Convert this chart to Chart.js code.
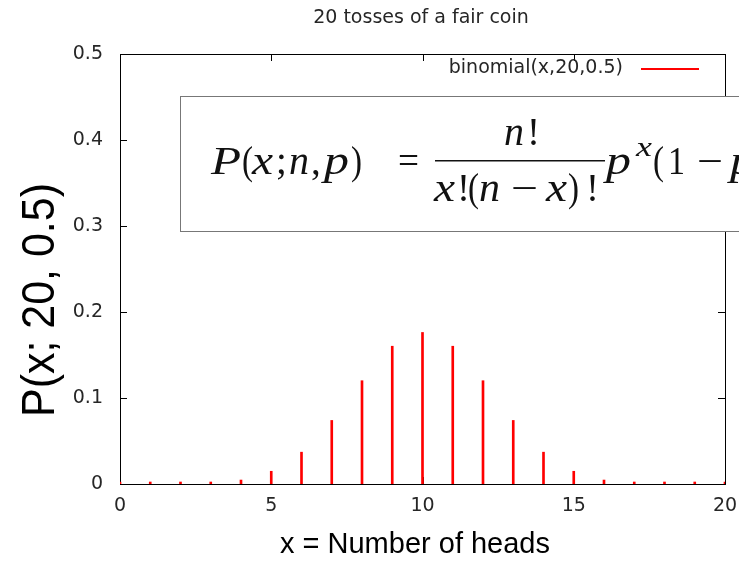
<!DOCTYPE html>
<html>
<head>
<meta charset="utf-8">
<script src="https://cdn.jsdelivr.net/npm/chart.js"></script>
<style>
  html, body { margin: 0; padding: 0; background: #fff; }
  #binom { display: block; }
</style>
</head>
<body>
<canvas id="binom" width="739" height="561"></canvas>
<script>
// Number of heads in 20 tosses and its probability, binomial(x,20,0.5)
const heads = [0, 1, 2, 3, 4, 5, 6, 7, 8, 9, 10, 11, 12, 13, 14, 15, 16, 17, 18, 19, 20];
const prob = [0.000001, 0.00002, 0.0002, 0.0011, 0.0046, 0.0148, 0.037, 0.0739, 0.1201, 0.1602, 0.1762,
              0.1602, 0.1201, 0.0739, 0.037, 0.0148, 0.0046, 0.0011, 0.0002, 0.00002, 0.000001];
const xTicks = [0, 5, 10, 15, 20];
const yTicks = [0, 0.1, 0.2, 0.3, 0.4, 0.5];

const seriesLabel = 'binomial(x,20,0.5)';
const chartTitle = '20 tosses of a fair coin';
const xTitle = 'x = Number of heads';
const yTitle = 'P(x; 20, 0.5)';

const TEXT = '#262626';
const SANS = '"DejaVu Sans", sans-serif';
const ARIAL = '"Liberation Sans", Arial, sans-serif';
const SERIF = '"Liberation Serif", serif';

// one piece of the formula; optional width squeezes/stretches it
function glyph(ctx, t, italic, x, base, size, width) {
  ctx.font = (italic ? 'italic ' : '') + size + 'px ' + SERIF;
  const w = ctx.measureText(t).width;
  ctx.save();
  ctx.translate(x, base);
  if (width) ctx.scale(width / w, 1);
  ctx.fillText(t, 0, 0);
  ctx.restore();
}

// gnuplot-like frame: full border with inward ticks on all four sides
const frame = {
  id: 'frame',
  beforeDatasetsDraw(chart) {
    const { ctx, chartArea: a, scales: { x, y } } = chart;
    ctx.save();
    ctx.strokeStyle = '#000';
    ctx.lineWidth = 1;
    ctx.strokeRect(a.left + 0.5, a.top + 0.5, a.right - a.left, a.bottom - a.top);
    ctx.beginPath();
    xTicks.forEach(v => {
      const px = Math.round(x.getPixelForValue(v)) + 0.5;
      ctx.moveTo(px, a.bottom); ctx.lineTo(px, a.bottom - 7);
      ctx.moveTo(px, a.top); ctx.lineTo(px, a.top + 7);
    });
    yTicks.forEach(v => {
      const py = Math.round(y.getPixelForValue(v)) + 0.5;
      ctx.moveTo(a.left, py); ctx.lineTo(a.left + 7, py);
      ctx.moveTo(a.right, py); ctx.lineTo(a.right - 7, py);
    });
    ctx.stroke();
    ctx.restore();
  },
  afterDraw(chart) {
    const { ctx } = chart;
    ctx.save();
    ctx.fillStyle = TEXT;
    ctx.textBaseline = 'middle';

    // title
    ctx.font = '19px ' + SANS;
    ctx.textAlign = 'center';
    ctx.fillText(chartTitle, 421, 18);

    // key: label then line sample
    ctx.textAlign = 'right';
    ctx.fillText(seriesLabel, 623, 68);
    ctx.strokeStyle = chart.data.datasets[0].backgroundColor;
    ctx.lineWidth = 2;
    ctx.beginPath();
    ctx.moveTo(641, 69); ctx.lineTo(699, 69);
    ctx.stroke();

    // axis titles
    ctx.fillStyle = '#000';
    ctx.textAlign = 'center';
    ctx.textBaseline = 'alphabetic';
    ctx.font = '29px ' + ARIAL;
    ctx.fillText(xTitle, 415, 553);
    ctx.save();
    ctx.translate(54, 300);
    ctx.rotate(-Math.PI / 2);
    ctx.font = '47px ' + ARIAL;
    const yw = ctx.measureText(yTitle).width;
    ctx.scale(234 / yw, 1);
    ctx.fillText(yTitle, 0, 0);
    ctx.restore();

    // formula box laid over the plot
    ctx.fillStyle = '#fff';
    ctx.fillRect(181, 97, 600, 135);
    ctx.strokeStyle = '#777';
    ctx.lineWidth = 1;
    ctx.strokeRect(180.5, 96.5, 600, 135);

    ctx.fillStyle = '#111';
    ctx.textAlign = 'left';
    const fs = 39, base = 174;
    // P(x;n,p) =
    glyph(ctx, 'P', 1, 211, base, fs, 30);
    glyph(ctx, '(', 0, 242, base, fs, 11);
    glyph(ctx, 'x', 1, 252, base, fs, 21);
    glyph(ctx, ';', 0, 276, base, fs);
    glyph(ctx, 'n', 1, 289, base, fs, 20);
    glyph(ctx, ',', 0, 311, base, fs);
    glyph(ctx, 'p', 1, 324, base, fs, 25);
    glyph(ctx, ')', 0, 351, base, fs, 11);
    glyph(ctx, '=', 0, 398, base, fs, 21);
    // n! over x!(n-x)!
    glyph(ctx, 'n', 1, 504, 145, fs, 20);
    glyph(ctx, '!', 0, 527, 145, fs);
    ctx.fillRect(435, 160, 170, 1.5);
    glyph(ctx, 'x', 1, 434, 201, fs, 21);
    glyph(ctx, '!', 0, 457, 201, fs);
    glyph(ctx, '(', 0, 468, 201, fs, 11);
    glyph(ctx, 'n', 1, 479, 201, fs, 21);
    glyph(ctx, '\u2212', 0, 511, 201, fs, 27);
    glyph(ctx, 'x', 1, 546, 201, fs, 21);
    glyph(ctx, ')', 0, 568, 201, fs, 11);
    glyph(ctx, '!', 0, 586, 201, fs);
    // p^x (1 - p)...
    glyph(ctx, 'p', 1, 606, base, fs, 25);
    glyph(ctx, 'x', 1, 636, 156, 28, 16);
    glyph(ctx, '(', 0, 653, base, fs, 11);
    glyph(ctx, '1', 0, 668, base, fs, 17);
    glyph(ctx, '\u2212', 0, 697, base, fs, 26);
    glyph(ctx, 'p', 1, 730, base, fs, 25);
    ctx.restore();
  }
};

new Chart(document.getElementById('binom'), {
  type: 'bar',
  data: {
    datasets: [{
      label: seriesLabel,
      data: heads.map((h, i) => ({ x: h, y: prob[i] })),
      backgroundColor: '#ff0000',
      borderWidth: 0,
      barThickness: 2,
      minBarLength: 2
    }]
  },
  options: {
    responsive: false,
    animation: false,
    layout: { padding: { left: 0, top: 54, right: 14, bottom: 0 } },
    plugins: { legend: { display: false }, tooltip: { enabled: false } },
    scales: {
      x: {
        type: 'linear',
        min: 0, max: 20,
        offset: false,
        grid: { display: false, drawTicks: false },
        border: { display: false },
        afterFit: s => { s.height = 77; s.paddingLeft = 0; s.paddingRight = 0; },
        afterBuildTicks: s => { s.ticks = xTicks.map(v => ({ value: v })); },
        ticks: { padding: 11, color: TEXT, font: { family: SANS, size: 19 }, maxRotation: 0 }
      },
      y: {
        min: 0, max: 0.5,
        grid: { display: false, drawTicks: false },
        border: { display: false },
        afterFit: s => { s.width = 120; s.paddingTop = 0; s.paddingBottom = 0; },
        afterBuildTicks: s => { s.ticks = yTicks.map(v => ({ value: v })); },
        ticks: { padding: 17, color: TEXT, font: { family: SANS, size: 19 }, callback: v => String(+v.toFixed(1)) }
      }
    }
  },
  plugins: [frame]
});
</script>
</body>
</html>
